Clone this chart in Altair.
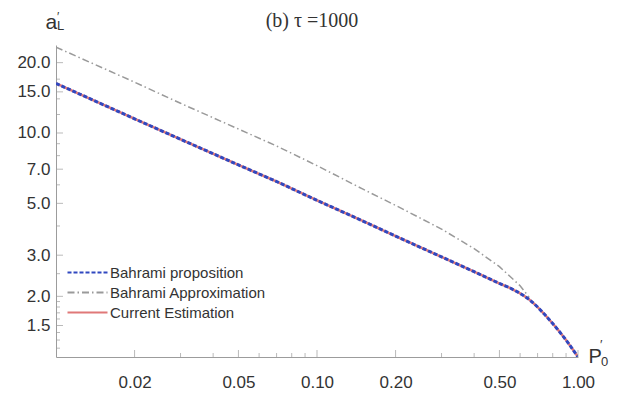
import altair as alt
import pandas as pd

# ---------------- data ----------------
p0 = [0.01, 0.02, 0.03, 0.05, 0.07, 0.1, 0.15, 0.2, 0.3, 0.4, 0.5, 0.55, 0.6,
      0.625, 0.65, 0.675, 0.7, 0.75, 0.8, 0.85, 0.9, 0.95, 1.0]
a_proposition = [16.3, 11.5, 9.4, 7.3, 6.2, 5.15, 4.2, 3.62, 2.95, 2.55, 2.27,
                 2.17, 2.06, 2.0, 1.94, 1.87, 1.80, 1.66, 1.53, 1.41, 1.30,
                 1.195, 1.1]
a_estimation = [16.3, 11.5, 9.4, 7.3, 6.2, 5.15, 4.2, 3.62, 2.95, 2.55, 2.27,
                2.17, 2.06, 2.0, 1.94, 1.87, 1.80, 1.66, 1.53, 1.41, 1.30,
                1.195, 1.1]
p0_approx = [0.01, 0.02, 0.03, 0.05, 0.07, 0.1, 0.15, 0.2, 0.3, 0.4, 0.5, 0.6, 0.65]
a_approx = [23.3, 16.5, 13.4, 10.4, 8.8, 7.25, 5.75, 4.9, 3.88, 3.2, 2.68, 2.22, 1.98]

series_names = ["Bahrami proposition", "Bahrami Approximation", "Current Estimation"]
series_colors = ["#3048c0", "#9a9a9a", "#e07878"]
series_dashes = [[4, 2], [7, 3, 1.5, 3], [1, 0]]

x_tick_values = [0.02, 0.05, 0.1, 0.2, 0.5, 1.0]
y_tick_values = [1.5, 2, 3, 5, 7, 10, 15, 20]
x_minor = [0.03, 0.04, 0.06, 0.07, 0.08, 0.09, 0.3, 0.4, 0.6, 0.7, 0.8, 0.9]
y_minor = [1.2, 1.3, 1.4, 1.6, 1.7, 1.8, 1.9, 2.5, 4, 6, 8, 9, 12, 14, 17]

title_text = "(b) τ =1000"

# ---------------- chart ----------------
W, H = 522, 312
FONT = "Liberation Sans"
TXT = "#333333"
AXC = "#9c9c9c"

xs = alt.Scale(type="log", domain=[0.01, 1.0], nice=False)
ys = alt.Scale(type="log", domain=[1.1, 23.8], nice=False)
cscale = alt.Scale(domain=series_names, range=series_colors)
dscale = alt.Scale(domain=series_names, range=series_dashes)

legend = alt.Legend(
    title=None, orient="none", legendX=9, legendY=220,
    symbolType="M-4,0H4", symbolSize=100, symbolStrokeWidth=2,
    symbolOffset=15, labelOffset=15,
    labelFont=FONT, labelFontSize=15, labelColor=TXT,
    padding=0, rowPadding=4,
)

xaxis = alt.Axis(
    values=x_tick_values, format=".2f", ticks=False, tickSize=0, grid=False,
    domainColor=AXC, domainWidth=1, labelFont=FONT, labelFontSize=17,
    labelColor=TXT, labelPadding=17, labelFlush=False,
    title="P", titleX=532, titleY=5, titleAlign="left", titleBaseline="alphabetic",
    titleFont=FONT, titleFontSize=20, titleFontWeight="normal", titleColor=TXT,
)
yaxis = alt.Axis(
    values=y_tick_values, format=".1f", ticks=False, tickSize=0, grid=False,
    domainColor=AXC, domainWidth=1, labelFont=FONT, labelFontSize=17,
    labelColor=TXT, labelPadding=6,
    title="a", titleX=-11, titleY=-17, titleAngle=0, titleAlign="left",
    titleBaseline="alphabetic", titleFont=FONT, titleFontSize=21,
    titleFontWeight="normal", titleColor=TXT,
)


def series_layer(p, a, name, width):
    df = pd.DataFrame({"P": p, "a": a, "series": name})
    return alt.Chart(df).mark_line(strokeWidth=width, clip=True).encode(
        x=alt.X("P:Q", scale=xs, axis=xaxis),
        y=alt.Y("a:Q", scale=ys, axis=yaxis),
        color=alt.Color("series:N", scale=cscale, legend=legend),
        strokeDash=alt.StrokeDash("series:N", scale=dscale, legend=legend),
    )


red = series_layer(p0, a_estimation, "Current Estimation", 2.5)
gray = series_layer(p0_approx, a_approx, "Bahrami Approximation", 1.5)
blue = series_layer(p0, a_proposition, "Bahrami proposition", 3)


def xticks(vals, size):
    return alt.Chart(pd.DataFrame({"P": vals})).mark_tick(
        orient="vertical", size=size, thickness=1, yOffset=-size / 2, color=AXC
    ).encode(x=alt.X("P:Q", scale=xs, axis=xaxis),
             y=alt.YDatum(1.1, scale=ys, axis=yaxis))


def yticks(vals, size):
    return alt.Chart(pd.DataFrame({"a": vals})).mark_tick(
        orient="horizontal", size=size, thickness=1, xOffset=size / 2, color=AXC
    ).encode(y=alt.Y("a:Q", scale=ys, axis=yaxis),
             x=alt.XDatum(0.01, scale=xs, axis=xaxis))


def note(txt, x, y, size, font=FONT, align="left"):
    return alt.Chart(pd.DataFrame({"t": [txt]})).mark_text(
        align=align, baseline="alphabetic", font=font, fontSize=size, color=TXT
    ).encode(x=alt.value(x), y=alt.value(y), text="t:N")


chart = alt.layer(
    red, gray, blue,
    xticks(x_minor, 4), xticks(x_tick_values, 7),
    yticks(y_minor, 4), yticks(y_tick_values, 7),
    note("′", 1, -24, 12), note("L", 1, -15, 13),
    note("′", 544, 304, 13), note("0", 545, 321, 13),
    note(title_text, 256, -18, 20, font="Liberation Serif", align="center"),
).properties(
    width=W, height=H,
    autosize=alt.AutoSizeParams(type="none"),
    padding={"left": 48, "top": 37, "right": 44, "bottom": 34},
    background="white",
).configure_view(stroke=None)

chart.save("out.html", embed_options={"renderer": "svg", "actions": False})
